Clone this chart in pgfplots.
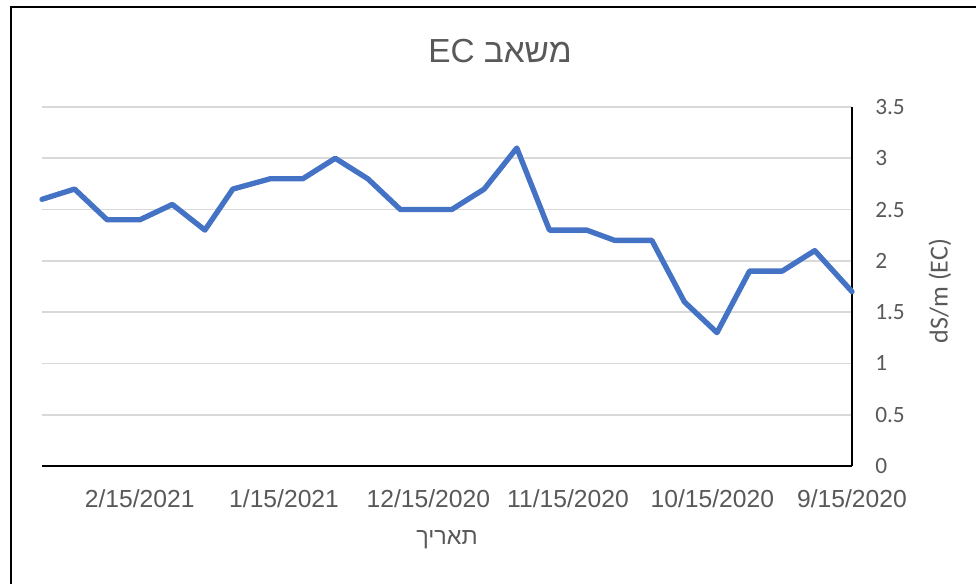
\documentclass[border=0pt]{standalone}
\usepackage{fontspec}
\usepackage{pgfplots}
\pgfplotsset{compat=1.18}
\setmainfont{Carlito}
\newfontfamily\arialfont{Liberation Sans}
\newfontfamily\hebfont[Script=Hebrew]{Liberation Sans}
\TeXXeTstate=1
\definecolor{txtgray}{HTML}{595959}
\definecolor{gridgray}{HTML}{D9D9D9}
\definecolor{lineblue}{HTML}{4472C4}
\begin{document}
\begin{tikzpicture}[x=0.75pt,y=0.75pt]
\path[use as bounding box] (0,0) rectangle (976,583);
\draw[black,line width=2pt] (11,-5) -- (11,576) -- (990,576);
\coordinate (C) at (447,296.5);
\begin{axis}[
  at={(C)}, anchor=center,
  scale only axis, width=607.5pt, height=269.25pt,
  x dir=reverse,
  xmin=0, xmax=174, ymin=0, ymax=3.5,
  axis x line*=bottom, axis y line*=right,
  axis line style={black, line width=1.5pt, -},
  xtick={0,30,61,91,122,153},
  xticklabels={9/15/2020,10/15/2020,11/15/2020,12/15/2020,1/15/2021,2/15/2021},
  ytick={0,0.5,...,3.5},
  major tick length=0pt,
  ymajorgrids, grid style={gridgray, line width=1.3pt},
  /pgf/number format/assume math mode=true,
  /pgf/number format/fixed,
  xticklabel style={font=\arialfont\fontsize{18.5}{22}\selectfont, text=txtgray, anchor=north, inner sep=0pt, yshift=-17.5pt},
  yticklabel style={font=\fontsize{17.5}{21}\selectfont, text=txtgray, anchor=west, inner sep=0pt, xshift=17.25pt},
  clip=false,
]
\addplot[lineblue, line width=4pt, line join=round, line cap=round] coordinates {
(0,1.7) (8,2.1) (15,1.9) (22,1.9) (29,1.3) (36,1.6) (43,2.2) (51,2.2)
(57,2.3) (65,2.3) (72,3.1) (79,2.7) (86,2.5) (97,2.5) (104,2.8) (111,3.0)
(118,2.8) (125,2.8) (133,2.7) (139,2.3) (146,2.55) (153,2.4) (160,2.4)
(167,2.7) (174,2.6)
};
\end{axis}
\node[text=txtgray, font=\fontsize{25}{30}\selectfont] at (500,532) {\arialfont EC \hebfont\beginR משאב\endR};
\node[text=txtgray, font=\fontsize{17.5}{21}\selectfont] at (447,43) {\hebfont\beginR תאריך\endR};
\node[text=txtgray, font=\fontsize{19.5}{23}\selectfont, rotate=90] at (940,292) {dS/m (EC)};
\end{tikzpicture}
\end{document}
